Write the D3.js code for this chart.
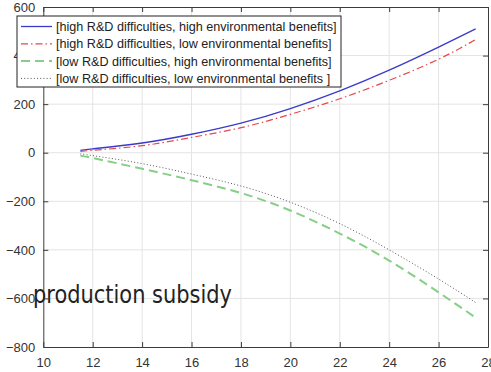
<!DOCTYPE html>
<html>
<head>
<meta charset="utf-8">
<script src="https://cdn.jsdelivr.net/npm/d3@7"></script>
<style>
  body { margin: 0; background: #fff; }
  svg { display: block; font-family: "Liberation Sans", Arial, sans-serif; }
</style>
</head>
<body>
<div class="chartWrapper"></div>
<script>
var xValues = [11.5, 12, 14, 16, 18, 20, 22, 24, 26, 27.5];
var highHigh = [10, 16, 40, 76, 122, 182, 255, 340, 435, 510];
var highLow = [5, 10, 29, 63, 103, 158, 222, 298, 385, 466];
var lowHigh = [-12, -22, -66, -113, -166, -238, -333, -444, -575, -679];
var lowLow = [-5, -12, -45, -88, -137, -204, -292, -400, -520, -617];
var xTicks = [10, 12, 14, 16, 18, 20, 22, 24, 26, 28];
var yTicks = [-800, -600, -400, -200, 0, 200, 400, 600];
var seriesNames = [
    '[high R&D difficulties, high environmental benefits]',
    '[high R&D difficulties, low environmental benefits]',
    '[low R&D difficulties, high environmental benefits]',
    '[low R&D difficulties, low environmental benefits ]'
];

var width = 491, height = 372;
var pad = { left: 43.3, right: 488, top: 7, bottom: 347 };

var series = [
    { name: seriesNames[0], values: highHigh, color: '#3a3acb', dash: null, w: 1.3 },
    { name: seriesNames[1], values: highLow, color: '#e5484d', dash: '7,3,1.5,3', w: 1.2 },
    { name: seriesNames[2], values: lowHigh, color: '#86cf86', dash: '9,5', w: 2 },
    { name: seriesNames[3], values: lowLow, color: '#555', dash: '1,2.2', w: 1 }
];

var svg = d3.select('.chartWrapper')
    .append('svg')
    .attr('width', width)
    .attr('height', height);

var xScale = d3.scaleLinear().domain([10, 28]).range([pad.left, pad.right]);
var yScale = d3.scaleLinear().domain([-800, 600]).range([pad.bottom, pad.top]);

// grid
svg.append('g').selectAll('line')
    .data(xTicks.slice(1, -1))
    .enter().append('line')
    .attr('x1', d => xScale(d)).attr('x2', d => xScale(d))
    .attr('y1', pad.top).attr('y2', pad.bottom)
    .attr('stroke', '#e4e4e4').attr('stroke-width', 1);
svg.append('g').selectAll('line')
    .data(yTicks.slice(1, -1))
    .enter().append('line')
    .attr('x1', pad.left).attr('x2', pad.right)
    .attr('y1', d => yScale(d)).attr('y2', d => yScale(d))
    .attr('stroke', '#e4e4e4').attr('stroke-width', 1);

// axes (matlab box style, ticks inside)
var axisColor = '#3c3c3c';
var xAxis = d3.axisBottom(xScale).tickValues(xTicks).tickSizeInner(-5).tickSizeOuter(0).tickPadding(11);
var yAxis = d3.axisLeft(yScale).tickValues(yTicks).tickSizeInner(-5).tickSizeOuter(0).tickPadding(8);
var gx = svg.append('g')
    .attr('transform', 'translate(0,' + pad.bottom + ')')
    .call(xAxis);
var gy = svg.append('g')
    .attr('transform', 'translate(' + pad.left + ',0)')
    .call(yAxis);
var gTop = svg.append('g')
    .attr('transform', 'translate(0,' + pad.top + ')')
    .call(d3.axisTop(xScale).tickValues(xTicks).tickSizeInner(-5).tickSizeOuter(0).tickFormat(''));
var gRight = svg.append('g')
    .attr('transform', 'translate(' + pad.right + ',0)')
    .call(d3.axisRight(yScale).tickValues(yTicks).tickSizeInner(-5).tickSizeOuter(0).tickFormat(''));
[gx, gy, gTop, gRight].forEach(function (g) {
    g.select('.domain').attr('stroke', axisColor);
    g.selectAll('.tick line').attr('stroke', axisColor);
    g.selectAll('text')
        .attr('fill', '#333')
        .attr('font-size', '13px')
        .attr('font-family', '"Liberation Sans", Arial, sans-serif');
});

// curves
var line = d3.line()
    .x(function (d, i) { return xScale(xValues[i]); })
    .y(function (d) { return yScale(d); })
    .curve(d3.curveNatural);

svg.append('g').selectAll('path')
    .data(series)
    .enter().append('path')
    .attr('d', d => line(d.values))
    .attr('fill', 'none')
    .attr('stroke', d => d.color)
    .attr('stroke-width', d => d.w)
    .attr('stroke-dasharray', d => d.dash);

// legend
var legend = svg.append('g').attr('transform', 'translate(17,16)');
legend.append('rect')
    .attr('width', 324).attr('height', 71)
    .attr('fill', '#fff').attr('stroke', '#222').attr('stroke-width', 1);
var item = legend.selectAll('.item')
    .data(series)
    .enter().append('g')
    .attr('class', 'item')
    .attr('transform', (d, i) => 'translate(0,' + (10.5 + i * 17.3) + ')');
item.append('line')
    .attr('x1', 4).attr('x2', 35)
    .attr('stroke', d => d.color)
    .attr('stroke-width', d => d.w)
    .attr('stroke-dasharray', d => d.dash);
item.append('text')
    .attr('x', 39).attr('dy', '0.35em')
    .attr('font-size', '12.6px')
    .attr('fill', '#222')
    .text(d => d.name);

// label
svg.append('text')
    .attr('x', 33).attr('y', 303)
    .attr('font-family', '"DejaVu Sans", sans-serif')
    .attr('font-size', '25px')
    .attr('fill', '#222')
    .attr('textLength', 199)
    .attr('lengthAdjust', 'spacingAndGlyphs')
    .text('production subsidy');
</script>
</body>
</html>
